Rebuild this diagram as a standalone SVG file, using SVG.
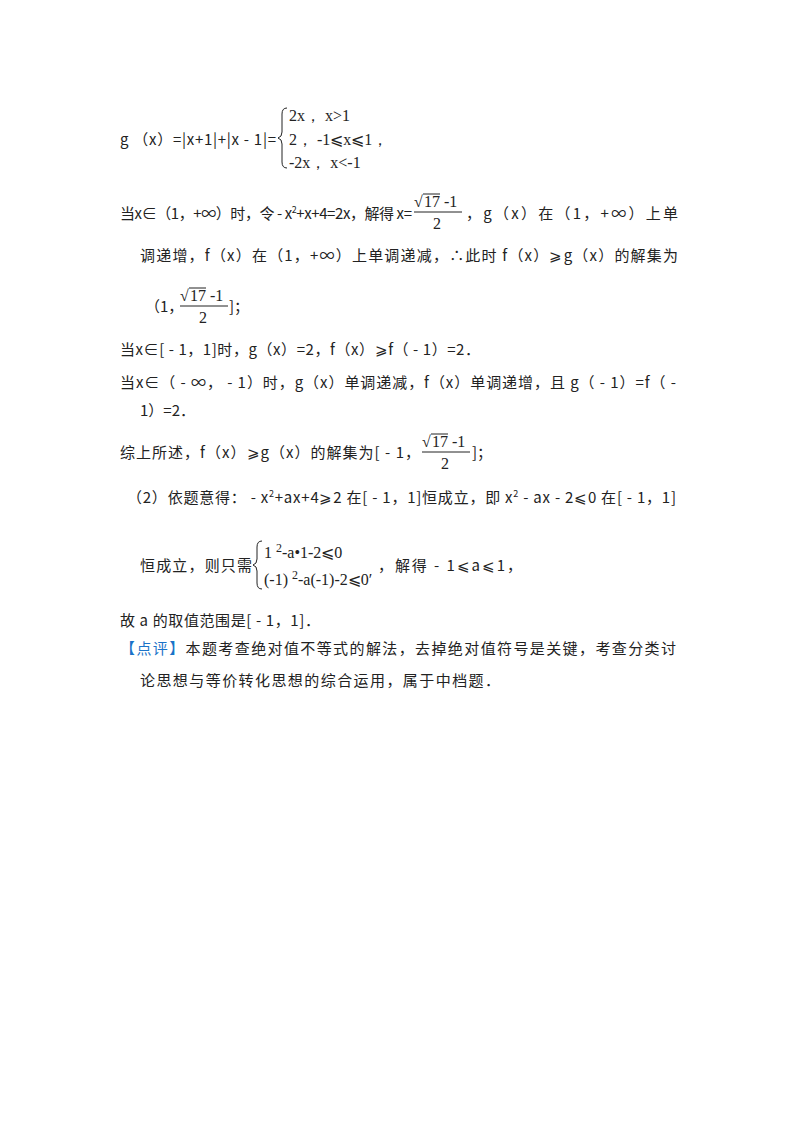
<svg xmlns="http://www.w3.org/2000/svg" width="800" height="1132" viewBox="0 0 800 1132">
<style>
text{font-family:"Noto Sans CJK SC","Noto Sans",sans-serif;font-size:15px;fill:#222}
.m{font-family:"Liberation Serif",serif;font-size:16px}
.sm{font-size:9px}
.b{fill:#1a73c8}
line,path{stroke:#222;stroke-width:1;fill:none}
</style>
<defs>
<g id="frac">
<text class="m" x="0" y="0">√</text>
<line x1="9" y1="-13" x2="26" y2="-13"/>
<text class="m" x="10" y="0">17 -1</text>
<line x1="0" y1="5" x2="48" y2="5"/>
<text class="m" x="19" y="22">2</text>
</g>
</defs>
<rect width="800" height="1132" fill="#fff"/>
<g id="line1">
<text x="120" y="145" textLength="156" lengthAdjust="spacing">g （x）=|x+1|+|x - 1|=</text>
<path d="M287,108 q-5,0 -5,6 v18 q0,5 -4,6 q4,1 4,6 v18 q0,6 5,6"/>
<text class="m" x="289" y="121">2x， x&gt;1</text>
<text class="m" x="289" y="145">2， -1⩽x⩽1，</text>
<text class="m" x="289" y="168">-2x， x&lt;-1</text>
</g>
<g id="line2">
<text x="120" y="219" textLength="292" lengthAdjust="spacing">当x∈（1，+∞）时，令 - x<tspan class="sm" dy="-6">2</tspan><tspan dy="6">+x+4=2x，解得 x=</tspan></text>
<use href="#frac" x="414" y="207"/>
<text x="466" y="219" textLength="212" lengthAdjust="spacing">，g（x）在（1，+∞）上单</text>
<text x="140" y="261" textLength="538" lengthAdjust="spacing">调递增，f（x）在（1，+∞）上单调递减，∴此时 f（x）⩾g（x）的解集为</text>
<text x="145" y="312">（1，</text>
<use href="#frac" x="180" y="301"/>
<text x="229" y="312">]；</text>
</g>
<g id="line3">
<text x="120" y="355" textLength="360" lengthAdjust="spacing">当x∈[ - 1，1]时，g（x）=2，f（x）⩾f（ - 1）=2．</text>
<text x="120" y="388" textLength="556" lengthAdjust="spacing">当x∈（ - ∞， - 1）时，g（x）单调递减，f（x）单调递增，且 g（ - 1）=f（ -</text>
<text x="140" y="416">1）=2．</text>
</g>
<g id="line4">
<text x="120" y="458" textLength="300" lengthAdjust="spacing">综上所述，f（x）⩾g（x）的解集为[ - 1，</text>
<use href="#frac" x="422" y="447"/>
<text x="472" y="458">]；</text>
</g>
<g id="line5">
<text x="127" y="503" textLength="549" lengthAdjust="spacing">（2）依题意得： - x<tspan class="sm" dy="-6">2</tspan><tspan dy="6">+ax+4⩾2 在[ - 1，1]恒成立，即 x</tspan><tspan class="sm" dy="-6">2</tspan><tspan dy="6"> - ax - 2⩽0 在[ - 1，1]</tspan></text>
<text x="140" y="571" textLength="112" lengthAdjust="spacing">恒成立，则只需</text>
<path d="M262,541 q-5,0 -5,6 v12 q0,5 -4,6 q4,1 4,6 v12 q0,6 5,6"/>
<text class="m" x="264" y="558">1 <tspan dy="-6" font-size="12">2</tspan><tspan dy="6">-a•1-2⩽0</tspan></text>
<text class="m" x="264" y="585">(-1) <tspan dy="-6" font-size="12">2</tspan><tspan dy="6">-a(-1)-2⩽0′</tspan></text>
<text x="378" y="571" textLength="144" lengthAdjust="spacing">，解得 - 1⩽a⩽1，</text>
<text x="120" y="626" textLength="200" lengthAdjust="spacing">故 a 的取值范围是[ - 1，1]．</text>
</g>
<g id="comment">
<text x="120" y="654" textLength="556" lengthAdjust="spacing"><tspan class="b">【点评】</tspan>本题考查绝对值不等式的解法，去掉绝对值符号是关键，考查分类讨</text>
<text x="140" y="686" textLength="360" lengthAdjust="spacing">论思想与等价转化思想的综合运用，属于中档题．</text>
</g>
<g id="connectors"/>
</svg>
